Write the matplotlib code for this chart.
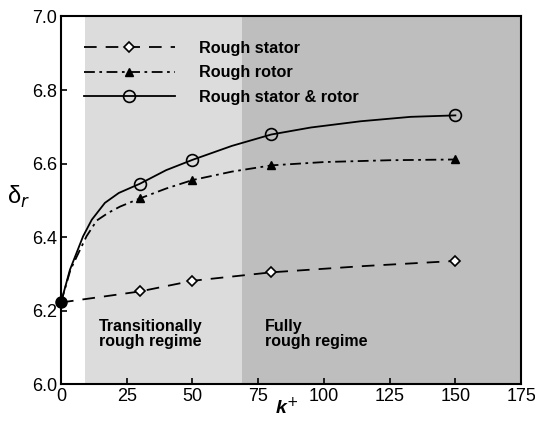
import matplotlib
matplotlib.use("Agg")
import matplotlib.pyplot as plt
from matplotlib.lines import Line2D

plt.rcParams["font.family"] = ["Liberation Sans", "DejaVu Sans"]

# marker positions (k+) and values
k_marks = [30, 50, 80, 150]
stator_marks = [6.252, 6.281, 6.304, 6.335]
rotor_marks = [6.505, 6.555, 6.595, 6.611]
both_marks = [6.545, 6.610, 6.679, 6.731]

# smooth curves
k_stator = [0, 30, 50, 80, 115, 150]
stator_curve = [6.222, 6.252, 6.281, 6.304, 6.321, 6.335]
k_rotor = [0, 3.6, 9.7, 13.6, 18.0, 22.5, 30, 40, 50, 65, 80, 100, 125, 150]
rotor_curve = [6.222, 6.311, 6.402, 6.445, 6.466, 6.483, 6.505, 6.532, 6.555,
               6.578, 6.595, 6.604, 6.609, 6.611]
k_both = [0, 3.4, 8.4, 11.7, 16.7, 22, 30, 40, 50, 65, 80, 95, 114, 133, 150]
both_curve = [6.222, 6.311, 6.402, 6.447, 6.493, 6.520, 6.545, 6.582, 6.610,
              6.648, 6.679, 6.698, 6.715, 6.727, 6.731]

k0, delta0 = 0, 6.222

# regime boundaries
trans_start, full_start, k_max = 9, 69, 175

fig = plt.figure(figsize=(5.35, 4.23), dpi=100)
ax = fig.add_axes([0.114, 0.092, 0.860, 0.869])

ax.axvspan(trans_start, full_start, color="#dcdcdc", lw=0, zorder=0)
ax.axvspan(full_start, k_max, color="#bebebe", lw=0, zorder=0)

lw = 1.3
ax.plot(k_stator, stator_curve, color="black", lw=lw, dashes=(7, 5))
ax.plot(k_rotor, rotor_curve, color="black", lw=lw, dashes=(6, 2.5, 1.5, 2.5))
ax.plot(k_both, both_curve, color="black", lw=lw)

ax.plot(k_marks, stator_marks, ls="none", marker="D", ms=5.5, mfc="white",
        mec="black", mew=1.2)
ax.plot(k_marks, rotor_marks, ls="none", marker="^", ms=6, mfc="black",
        mec="black")
ax.plot(k_marks, both_marks, ls="none", marker="o", ms=8.5, mfc="none",
        mec="black", mew=1.2)
ax.plot([k0], [delta0], ls="none", marker="o", ms=8, color="black",
        clip_on=False, zorder=5)

handles = [
    Line2D([], [], color="black", lw=lw, dashes=(7, 5), marker="D", ms=5.5,
           mfc="white", mec="black", mew=1.2),
    Line2D([], [], color="black", lw=lw, dashes=(6, 2.5, 1.5, 2.5),
           marker="^", ms=6, mfc="black"),
    Line2D([], [], color="black", lw=lw, marker="o", ms=8.5, mfc="none",
           mew=1.2),
]
labels = ["Rough stator", "Rough rotor", "Rough stator & rotor"]
ax.legend(handles, labels, loc="upper left", bbox_to_anchor=(0.035, 0.952),
          borderaxespad=0, frameon=False, handlelength=5.6,
          handletextpad=1.5, labelspacing=0.6,
          prop={"weight": "bold", "size": 11.7})

ax.text(14.5, 6.137, "Transitionally\nrough regime", fontsize=11.5,
        fontweight="bold", va="center", ha="left", linespacing=1.0)
ax.text(77.5, 6.137, "Fully\nrough regime", fontsize=11.5,
        fontweight="bold", va="center", ha="left", linespacing=1.0)

ax.set_xlim(0, k_max)
ax.set_ylim(6.0, 7.0)
ax.set_xticks([0, 25, 50, 75, 100, 125, 150, 175])
ax.set_yticks([6.0, 6.2, 6.4, 6.6, 6.8, 7.0])
ax.set_yticklabels(["6.0", "6.2", "6.4", "6.6", "6.8", "7.0"])
ax.tick_params(direction="in", length=4, width=1.2, labelsize=13, pad=3)
for sp in ax.spines.values():
    sp.set_linewidth(1.5)

ax.set_xlabel("k$^{+}$", fontsize=14, fontstyle="italic", fontweight="bold")
ax.xaxis.set_label_coords(0.49, -0.035)
ax.set_ylabel("δ$_{r}$", fontsize=17, rotation=0, ha="center",
              va="center")
ax.yaxis.set_label_coords(-0.093, 0.51)

fig.savefig("out.png", dpi=100)
